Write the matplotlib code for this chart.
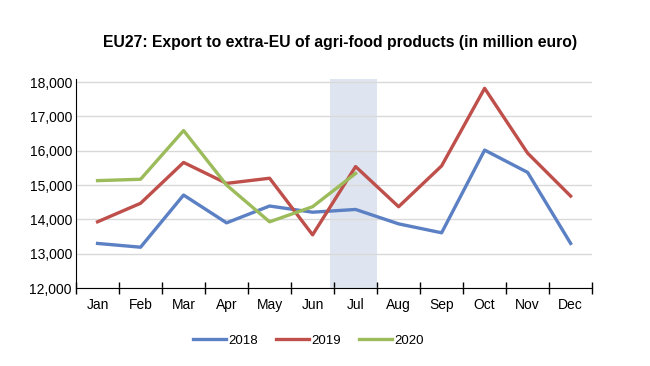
import numpy as np
import matplotlib
matplotlib.use('Agg')
import matplotlib.pyplot as plt

plt.rcParams['font.family'] = ['Liberation Sans', 'DejaVu Sans']

months = ['Jan', 'Feb', 'Mar', 'Apr', 'May', 'Jun', 'Jul', 'Aug', 'Sep', 'Oct', 'Nov', 'Dec']
exp_2018 = [13300, 13190, 14710, 13900, 14390, 14210, 14290, 13870, 13610, 16020, 15370, 13300]
exp_2019 = [13930, 14470, 15660, 15050, 15200, 13550, 15540, 14370, 15560, 17820, 15930, 14680]
exp_2020 = [15130, 15170, 16590, 15000, 13930, 14370, 15340]

yticks = [12000, 13000, 14000, 15000, 16000, 17000, 18000]

fig = plt.figure(figsize=(6.5, 3.66), dpi=100)
ax = fig.add_axes([0.117, 0.213, 0.794, 0.571])

x = np.arange(len(months))
ax.axvspan(5.4, 6.5, color='#dfe5f0', zorder=0, lw=0)
ax.plot(x, exp_2018, color='#5b80c3', lw=2.4, label='2018', zorder=3)
ax.plot(x, exp_2019, color='#bf4f4b', lw=2.4, label='2019', zorder=3)
ax.plot(x[:len(exp_2020)], exp_2020, color='#9cbb5a', lw=2.4, label='2020', zorder=3)

ax.set_xlim(-0.5, 11.5)
ax.set_ylim(12000, 18090)
ax.set_yticks(yticks)
ax.set_yticklabels([f'{v:,}' for v in yticks])
ax.yaxis.grid(True, color='#d9d9d9', lw=1)
ax.set_axisbelow(True)

ax.set_xticks(np.arange(-0.5, 12, 1))
ax.set_xticklabels([])
ax.set_xticks(x, minor=True)
ax.set_xticklabels(months, minor=True)
ax.tick_params(axis='x', which='major', direction='inout', length=8, width=1)
ax.tick_params(axis='x', which='minor', length=0, pad=7, labelsize=10)
ax.tick_params(axis='y', length=0, pad=3, labelsize=10)

for s in ['top', 'right']:
    ax.spines[s].set_visible(False)
ax.spines['left'].set_color('black')
ax.spines['bottom'].set_color('black')

fig.text(0.523, 0.872, 'EU27: Export to extra-EU of agri-food products (in million euro)',
         ha='center', fontsize=11.3, fontweight='bold')

ax.legend(loc='upper center', bbox_to_anchor=(0.45, -0.165), ncol=3, frameon=False,
          fontsize=9.5, handlelength=2.5, handletextpad=0.15, columnspacing=1.4)

fig.savefig('out.png', dpi=100)
